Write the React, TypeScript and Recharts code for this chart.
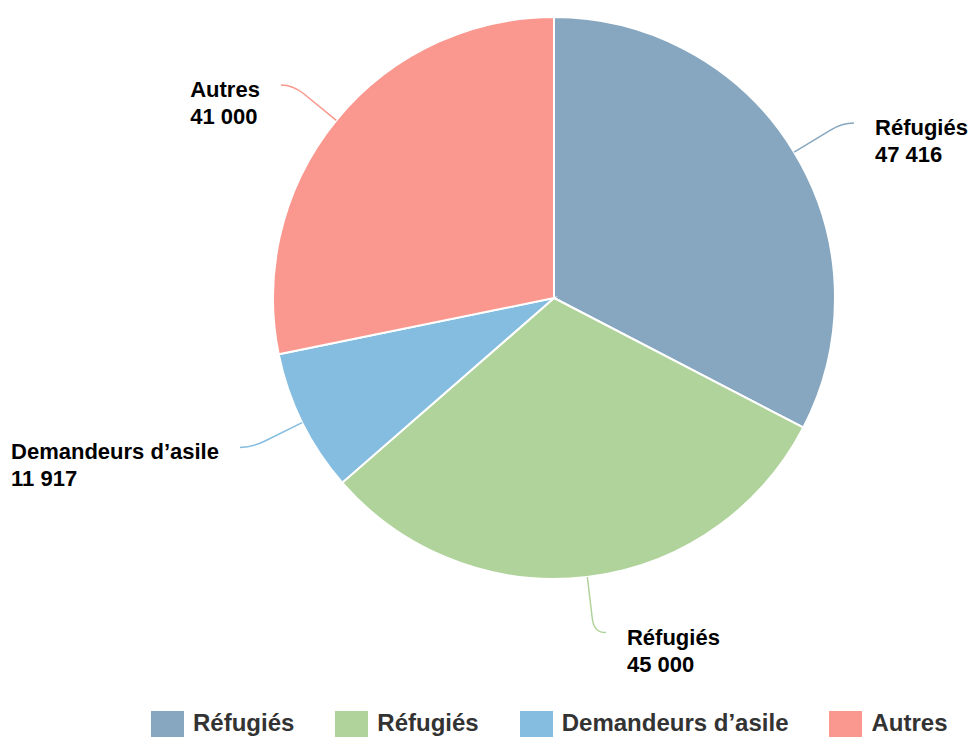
import { PieChart, Pie, Cell, Legend, PieLabelRenderProps } from "recharts";

// data
const categories = ["Réfugiés", "Réfugiés", "Demandeurs d’asile", "Autres"];
const values = [47416, 45000, 11917, 41000];
const COLORS = ["#86a7bf", "#b0d39b", "#85bde0", "#fa978e"];

const data = categories.map((name, i) => ({ name, value: values[i] }));

const RADIAN = Math.PI / 180;
const FONT = "'Liberation Sans', Arial, Helvetica, sans-serif";
const LABEL_SIZE = 22;

const formatNumber = (v: number) =>
  v.toString().replace(/\B(?=(\d{3})+(?!\d))/g, " ");

const polar = (cx: number, cy: number, r: number, angle: number) => ({
  x: cx + r * Math.cos(-angle * RADIAN),
  y: cy + r * Math.sin(-angle * RADIAN),
});

// width of a bold label line, so left-side labels stay left-aligned
let ctx: CanvasRenderingContext2D | null = null;
const textWidth = (s: string) => {
  if (!ctx) ctx = document.createElement("canvas").getContext("2d");
  if (!ctx) return s.length * LABEL_SIZE * 0.55;
  ctx.font = `bold ${LABEL_SIZE}px ${FONT}`;
  return ctx.measureText(s).width;
};

// connector + two-line label
const renderLabel = (props: PieLabelRenderProps) => {
  const cx = props.cx as number;
  const cy = props.cy as number;
  const r = props.outerRadius as number;
  const midAngle = props.midAngle as number;
  const index = props.index as number;
  const color = COLORS[index % COLORS.length];

  const p0 = polar(cx, cy, r, midAngle);
  const pa = polar(cx, cy, r + 42, midAngle);
  const pe = polar(cx, cy, r + 56, midAngle);
  const right = Math.cos(-midAngle * RADIAN) >= 0;
  const p2 = { x: pe.x + (right ? 12 : -12), y: pe.y };

  const line1 = categories[index];
  const line2 = formatNumber(values[index]);
  const blockW = Math.max(textWidth(line1), textWidth(line2));
  const tx = right ? p2.x + 21 : p2.x - 21 - blockW;

  return (
    <g>
      <path
        d={`M${p0.x},${p0.y} L${pa.x},${pa.y} Q${pe.x},${pe.y} ${p2.x},${p2.y}`}
        stroke={color}
        strokeWidth={1.5}
        fill="none"
      />
      <text
        x={tx}
        y={p2.y + 12}
        fill="#000"
        textAnchor="start"
        fontFamily={FONT}
        fontWeight="bold"
        fontSize={LABEL_SIZE}
      >
        <tspan x={tx}>{line1}</tspan>
        <tspan x={tx} dy={27}>
          {line2}
        </tspan>
      </text>
    </g>
  );
};

const renderLegend = () => (
  <div style={{ display: "flex", alignItems: "flex-start", fontFamily: FONT }}>
    {categories.map((name, i) => (
      <div
        key={`legend-${i}`}
        style={{ display: "flex", alignItems: "flex-start", marginRight: 41 }}
      >
        <div
          style={{
            width: 33,
            height: 26,
            background: COLORS[i],
            marginRight: 9,
          }}
        />
        <span
          style={{
            fontSize: 24,
            lineHeight: "24px",
            fontWeight: "bold",
            color: "#333",
            whiteSpace: "nowrap",
          }}
        >
          {name}
        </span>
      </div>
    ))}
  </div>
);

const App = () => {
  return (
    <div
      style={{
        position: "fixed",
        top: 0,
        left: 0,
        width: 971,
        height: 737,
        overflow: "hidden",
        background: "#fff",
      }}
    >
      <PieChart
        width={971}
        height={737}
        margin={{ top: 0, right: 0, bottom: 0, left: 0 }}
      >
        <Pie
          data={data}
          cx={554}
          cy={298}
          outerRadius={281}
          startAngle={90}
          endAngle={-270}
          dataKey="value"
          nameKey="name"
          stroke="#fff"
          strokeWidth={2}
          labelLine={false}
          label={renderLabel}
          isAnimationActive={false}
        >
          {data.map((_, index) => (
            <Cell key={`cell-${index}`} fill={COLORS[index % COLORS.length]} />
          ))}
        </Pie>
        <Legend
          content={renderLegend}
          wrapperStyle={{ left: 151, top: 711, width: 820, bottom: "auto" }}
        />
      </PieChart>
    </div>
  );
};

export default App;
